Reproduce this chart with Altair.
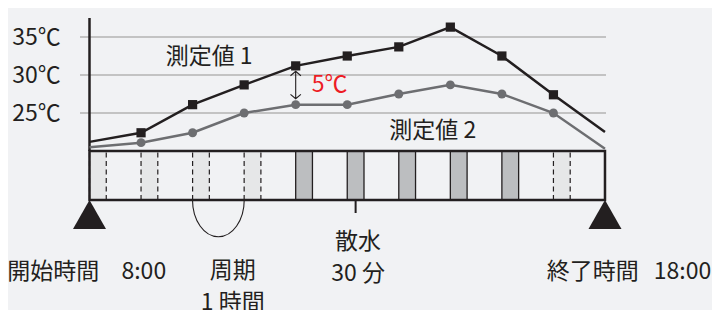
import altair as alt
import pandas as pd

# ---------------- data ----------------
hours = [8, 9, 10, 11, 12, 13, 14, 15, 16, 17, 18]
temp_1 = [21.2, 22.4, 26.1, 28.7, 31.2, 32.5, 33.7, 36.3, 32.5, 27.4, 22.5]
temp_2 = [20.5, 21.1, 22.4, 25.0, 26.1, 26.1, 27.5, 28.7, 27.5, 25.0, 20.3]
marker_hours = [9, 10, 11, 12, 13, 14, 15, 16, 17]

grid_temps = [25, 30, 35]
grid_labels = ["25℃", "30℃", "35℃"]

cell_starts = [8, 9, 10, 11, 12, 13, 14, 15, 16, 17]
cell_kinds = ["light", "light", "light", "light", "dark", "dark", "dark", "dark", "dark", "light"]
cell_length = 0.325  # hours

start_hour = 8
end_hour = 18

# ---------------- layout constants (in data units) ----------------
X_DOM = [6.419, 20.076]
Y_DOM = [-0.92, 38.816]
band_top = 20.0
band_bottom = 13.55
axis_top = 37.5
grid_x0, grid_x1 = 7.816, 18.02
label_x = 7.441
TXT_DY = -0.3  # small vertical correction for CJK glyph centring

xs = alt.Scale(domain=X_DOM, nice=False, zero=False)
ys = alt.Scale(domain=Y_DOM, nice=False, zero=False)

FONT = "Noto Sans CJK JP"
INK = "#231f20"
GRAY = "#6d6e71"


def X(f="x"):
    return alt.X(f, type="quantitative", scale=xs, axis=None)


def Y(f="y"):
    return alt.Y(f, type="quantitative", scale=ys, axis=None)


# gridlines
grid_df = pd.DataFrame({"y": grid_temps, "x": grid_x0, "x2": grid_x1, "label": grid_labels})
grid = alt.Chart(grid_df).mark_rule(color="#b3b3b3", strokeWidth=1.5).encode(
    x=X("x"), x2="x2", y=Y("y")
)
grid_text = alt.Chart(grid_df.assign(lx=label_x, ly=grid_df.y - 0.1)).mark_text(
    align="right", baseline="middle", font=FONT, fontSize=23, color=INK
).encode(x=X("lx"), y=Y("ly"), text="label")

# y axis line
axis_df = pd.DataFrame({"x": [start_hour], "y": [band_top], "y2": [axis_top]})
axis_line = alt.Chart(axis_df).mark_rule(color=INK, strokeWidth=2.5).encode(
    x=X("x"), y=Y("y"), y2="y2"
)

# schedule cells
cells_df = pd.DataFrame({
    "x": cell_starts,
    "x2": [s + cell_length for s in cell_starts],
    "kind": cell_kinds,
    "y": band_bottom,
    "y2": band_top,
})
light_cells = alt.Chart(cells_df[cells_df.kind == "light"]).mark_rect(
    fill="#e6e7e8"
).encode(x=X("x"), x2="x2", y=Y("y"), y2="y2")
dark_cells = alt.Chart(cells_df[cells_df.kind == "dark"]).mark_rect(
    fill="#bcbec0", stroke=INK, strokeWidth=1.3
).encode(x=X("x"), x2="x2", y=Y("y"), y2="y2")

dash_x = []
for s, k in zip(cell_starts, cell_kinds):
    if k == "light":
        dash_x += [s, s + cell_length]
dash_df = pd.DataFrame({"x": dash_x, "y": band_bottom, "y2": band_top})
dashes = alt.Chart(dash_df).mark_rule(
    color=INK, strokeWidth=1.2, strokeDash=[5, 3.5]
).encode(x=X("x"), y=Y("y"), y2="y2")

band_df = pd.DataFrame({"x": [start_hour], "x2": [end_hour], "y": [band_bottom], "y2": [band_top]})
band = alt.Chart(band_df).mark_rect(
    fill=None, fillOpacity=0, stroke=INK, strokeWidth=2.5
).encode(x=X("x"), x2="x2", y=Y("y"), y2="y2")

# lines
line_df = pd.DataFrame({"x": hours, "t1": temp_1, "t2": temp_2})
mark_df = line_df[line_df.x.isin(marker_hours)]
line1 = alt.Chart(line_df).mark_line(color=INK, strokeWidth=2.5).encode(x=X("x"), y=Y("t1"))
line2 = alt.Chart(line_df).mark_line(color=GRAY, strokeWidth=2.5).encode(x=X("x"), y=Y("t2"))
sq = alt.Chart(mark_df).mark_square(color=INK, size=85, opacity=1).encode(x=X("x"), y=Y("t1"))
ci = alt.Chart(mark_df).mark_circle(color=GRAY, size=80, opacity=1).encode(x=X("x"), y=Y("t2"))

# triangles at start / end
tri_df = pd.DataFrame({"x": [start_hour, end_hour], "y": [11.645, 11.645]})
tris = alt.Chart(tri_df).mark_point(
    shape="M 0 -0.88 L 1 0.88 L -1 0.88 Z", size=1089, filled=True,
    color=INK, opacity=1, strokeWidth=0
).encode(x=X("x"), y=Y("y"))

# period arc (10:00 - 11:00)
arc_df = pd.DataFrame({"x": [10.5], "y": [band_bottom]})
arc = alt.Chart(arc_df).mark_point(
    shape="M -1 0 C -1 0.784 -0.552 1.42 0 1.42 C 0.552 1.42 1 0.784 1 0",
    size=2673, filled=False, color=INK, strokeWidth=1.1, opacity=1
).encode(x=X("x"), y=Y("y"))

# watering tick
tick_df = pd.DataFrame({"x": [13 + cell_length / 2], "y": [band_bottom], "y2": [11.84]})
tick = alt.Chart(tick_df).mark_rule(color=INK, strokeWidth=2).encode(
    x=X("x"), y=Y("y"), y2="y2"
)

# 5℃ double arrow
arrow_df = pd.DataFrame({"x": [12.0], "y": [28.68]})
arrow = alt.Chart(arrow_df).mark_point(
    shape="M 0 -1 L 0 1 M -0.38 -0.68 L 0 -1 L 0.38 -0.68 M -0.38 0.68 L 0 1 L 0.38 0.68",
    size=751, filled=False, color=INK, strokeWidth=1.1, opacity=1
).encode(x=X("x"), y=Y("y"))

# texts
center_texts = pd.DataFrame({
    "x": [7.295, 10.78, 10.78, 13.21, 13.21, 17.763],
    "y": [4.34, 4.45, 0.35, 8.35, 4.15, 4.34],
    "text": ["開始時間", "周期", "1 時間", "散水", "30 分", "終了時間"],
})
ctext = alt.Chart(center_texts.assign(y=center_texts.y + TXT_DY)).mark_text(
    align="center", baseline="middle", font=FONT, fontSize=23, color=INK
).encode(x=X("x"), y=Y("y"), text="text")

time_texts = pd.DataFrame({
    "x": [8.62, 20.06],
    "y": [4.34, 4.34],
    "text": ["8:00", "18:00"],
})
t_start = alt.Chart(time_texts.iloc[[0]].assign(y=4.34 + TXT_DY)).mark_text(
    align="left", baseline="middle", font=FONT, fontSize=23, color=INK
).encode(x=X("x"), y=Y("y"), text="text")
t_end = alt.Chart(time_texts.iloc[[1]].assign(y=4.34 + TXT_DY)).mark_text(
    align="right", baseline="middle", font=FONT, fontSize=23, color=INK
).encode(x=X("x"), y=Y("y"), text="text")

left_texts = pd.DataFrame({
    "x": [9.478, 13.816],
    "y": [32.63, 22.89],
    "text": ["測定値 1", "測定値 2"],
})
ltext = alt.Chart(left_texts.assign(y=left_texts.y + TXT_DY)).mark_text(
    align="left", baseline="middle", font=FONT, fontSize=23, color=INK
).encode(x=X("x"), y=Y("y"), text="text")

red_df = pd.DataFrame({"x": [12.31], "y": [28.95 + TXT_DY], "text": ["5℃"]})
rtext = alt.Chart(red_df).mark_text(
    align="left", baseline="middle", font=FONT, fontSize=23, color="#ed1c24"
).encode(x=X("x"), y=Y("y"), text="text")

chart = alt.layer(
    grid, light_cells, dashes, dark_cells, band, axis_line, tick, arc, tris,
    line2, line1, ci, sq, arrow, grid_text, ctext, t_start, t_end, ltext, rtext
).properties(
    width=704, height=302, padding=0,
    autosize=alt.AutoSizeParams(type="none"),
).configure(background="#f1f2f4").configure_view(stroke=None)

chart.save("out.html", embed_options={"renderer": "svg", "actions": False})
